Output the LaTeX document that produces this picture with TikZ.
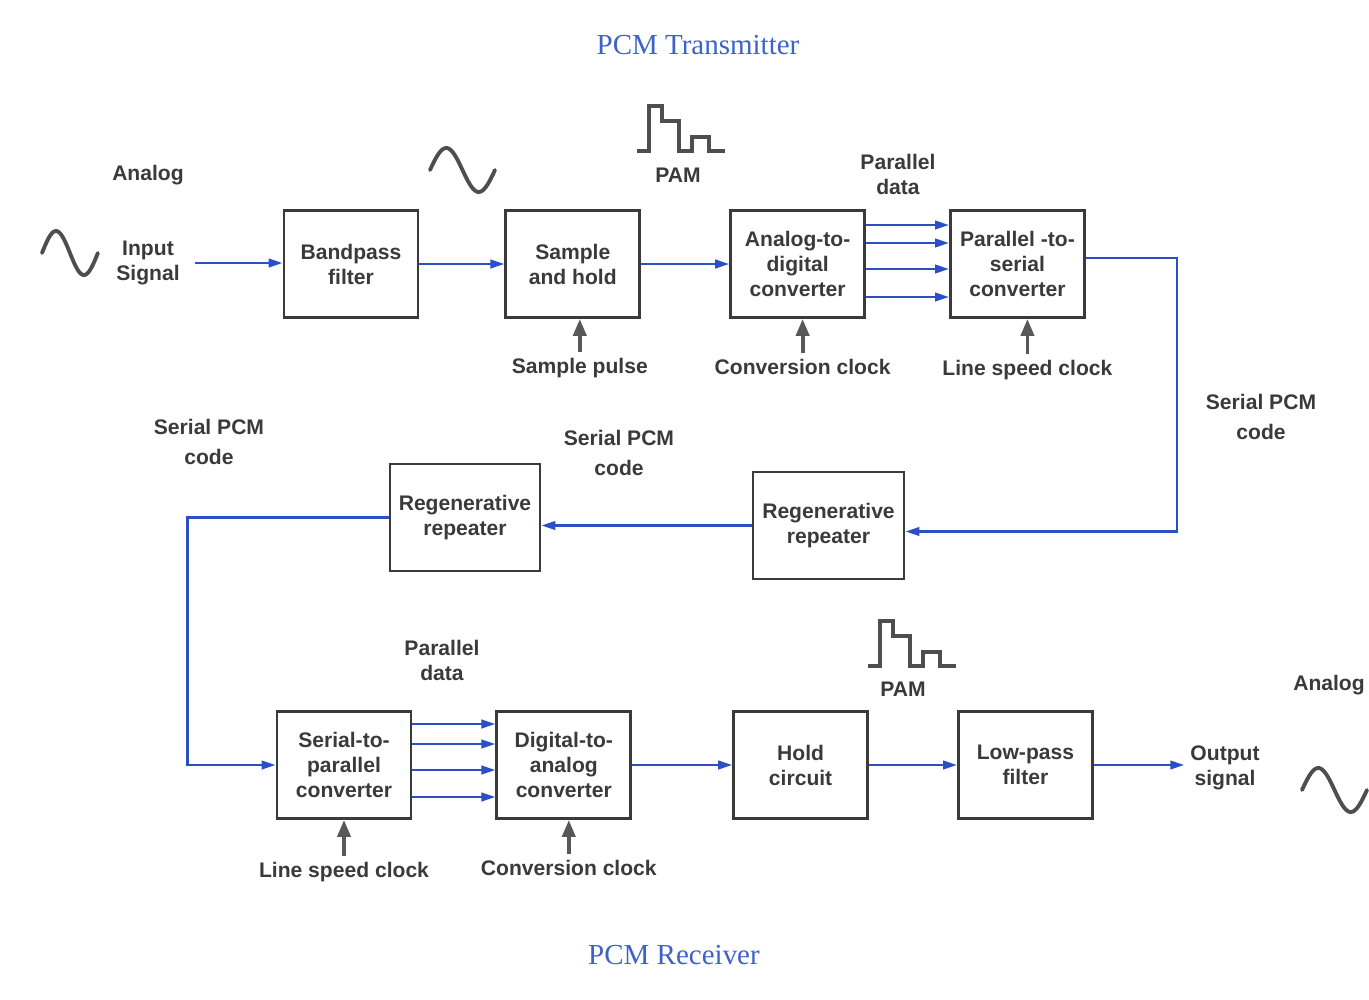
\documentclass[tikz,border=0pt]{standalone}
\usepackage{fontspec}
\setmainfont{Liberation Sans}
\newfontfamily\titlefont{Liberation Serif}
\usetikzlibrary{positioning, arrows.meta}
\definecolor{ink}{HTML}{3A3A3A}
\definecolor{wire}{HTML}{2B4FC4}
\definecolor{ttl}{HTML}{3D62C8}
\tikzset{
  block/.style={draw=ink, line width=1.6pt, minimum width=2.68cm, minimum height=2.14cm,
    align=center, text=ink, font=\bfseries\fontsize{12}{14.2}\selectfont},
  lbl/.style={text=ink, align=center, font=\bfseries\fontsize{12}{14.2}\selectfont},
  ttlbl/.style={text=ttl, font=\titlefont\fontsize{16.5}{20}\selectfont},
  sig/.style={draw=wire, line width=1.4pt, -{Triangle[length=0.28cm,width=0.17cm]}},
  clk/.style={draw=ink!85, line width=2.2pt, -{Triangle[length=0.34cm,width=0.26cm]}},
  sinewave/.pic={\draw[ink!90, line width=2.2pt, line cap=round]
    plot[domain=0:360, samples=50, smooth] ({\x/360*1.3}, {0.44*sin(\x)});},
  pam/.pic={\draw[ink!90, line width=2pt]
    (0,0) -| (0.24,0.9) -| (0.5,0.6) -| (0.84,0) -| (1.1,0.28) -| (1.44,0) -- (1.76,0);}
}
\begin{document}
\begin{tikzpicture}
  \useasboundingbox (0,0) rectangle (27.38,-20);

  \node[ttlbl] (tx) at (13.96,-0.9) {PCM Transmitter};
  \node[ttlbl] (rx) at (13.48,-19.1) {PCM Receiver};

  \node[block] (bp) at (7.02,-5.28) {Bandpass\\filter};
  \node[block, right=1.70cm of bp] (sh) {Sample\\and hold};
  \node[block, right=1.76cm of sh] (adc) {Analog-to-\\digital\\converter};
  \node[block, right=1.66cm of adc] (ps) {Parallel -to-\\serial\\converter};

  \node[block, minimum width=3.02cm] (rrR) at (16.57,-10.51) {Regenerative\\repeater};
  \node[block, minimum width=3cm] (rrL) at (9.3,-10.35) {Regenerative\\repeater};

  \node[block] (sp) at (6.88,-15.3) {Serial-to-\\parallel\\converter};
  \node[block, right=1.66cm of sp] (dac) {Digital-to-\\analog\\converter};
  \node[block, right=2.0cm of dac] (hold) {Hold\\circuit};
  \node[block, right=1.76cm of hold] (lpf) {Low-pass\\filter};

  \node[lbl] (ana1) at (2.96,-3.5) {Analog};
  \node[lbl] (insig) at (2.96,-5.26) {Input\\Signal};
  \node[lbl] (pam1) at (13.56,-3.5) {PAM};
  \node[lbl] (pd1) at (17.96,-3.48) {Parallel\\data};
  \node[lbl, below=0.66cm of sh, xshift=0.14cm] (spulse) {Sample pulse};
  \node[lbl, below=0.68cm of adc, xshift=0.1cm] (cc1) {Conversion clock};
  \node[lbl, below=0.7cm of ps, xshift=0.2cm] (lsc1) {Line speed clock};
  \node[lbl] (spc1) at (25.22,-8.34) {Serial PCM\\[3pt]code};
  \node[lbl] (spc2) at (12.38,-9.06) {Serial PCM\\[3pt]code};
  \node[lbl] (spc3) at (4.18,-8.84) {Serial PCM\\[3pt]code};
  \node[lbl] (pd2) at (8.84,-13.2) {Parallel\\data};
  \node[lbl] (pam2) at (18.06,-13.78) {PAM};
  \node[lbl] (ana2) at (26.58,-13.7) {Analog};
  \node[lbl] (outsig) at (24.5,-15.36) {Output\\signal};
  \node[lbl, below=0.72cm of sp] (lsc2) {Line speed clock};
  \node[lbl, below=0.68cm of dac, xshift=0.1cm] (cc2) {Conversion clock};

  \pic[xscale=0.86] at (0.84,-5.06) {sinewave};
  \pic at (8.6,-3.4) {sinewave};
  \pic at (26.04,-15.8) {sinewave};
  \pic at (12.74,-3.02) {pam};
  \pic at (17.36,-13.32) {pam};

  \draw[sig, shorten <=0.18cm] (insig.east) -- (insig.east -| bp.west);
  \draw[sig] (bp) -- (sh);
  \draw[sig] (sh) -- (adc);
  \foreach \dy in {0.78,0.42,-0.1,-0.66}
    \draw[sig] ([yshift=\dy cm]adc.east) -- ([yshift=\dy cm]ps.west);
  \draw[sig] ([yshift=0.12cm]ps.east) -- ++(1.82,0) |- ([yshift=-0.12cm]rrR.east);
  \draw[sig] (rrR.west) -- (rrR.west -| rrL.east);
  \draw[sig] (rrL.west) -- ++(-4.02,0) |- (sp.west);
  \foreach \dy in {0.82,0.42,-0.1,-0.64}
    \draw[sig] ([yshift=\dy cm]sp.east) -- ([yshift=\dy cm]dac.west);
  \draw[sig] (dac) -- (hold);
  \draw[sig] (hold) -- (lpf);
  \draw[sig] (lpf.east) -- (lpf.east -| outsig.west);

  \draw[clk] (spulse.north) -- (spulse.north |- sh.south);
  \draw[clk] (cc1.north) -- (cc1.north |- adc.south);
  \draw[clk] (lsc1.north) -- (lsc1.north |- ps.south);
  \draw[clk] (lsc2.north) -- (lsc2.north |- sp.south);
  \draw[clk] (cc2.north) -- (cc2.north |- dac.south);
\end{tikzpicture}
\end{document}
